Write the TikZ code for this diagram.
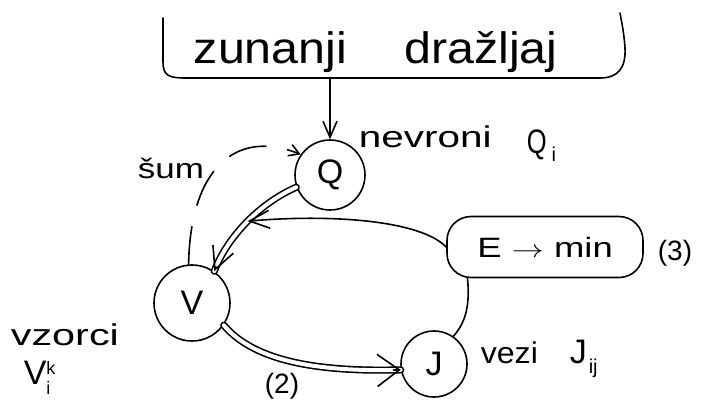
\documentclass[tikz,border=0pt]{standalone}
\usepackage{fontspec}
\setmainfont{Liberation Sans}
\usepackage{graphicx}
\usetikzlibrary{arrows.meta}
\newcommand\myfs[1]{\fontsize{#1}{#1}\selectfont}
\begin{document}
\begin{tikzpicture}[x=1pt,y=-1pt, line width=1.6pt, line cap=round, line join=round,
  circ/.style={circle, draw, inner sep=0pt, font=\myfs{34}},
  lbl/.style={anchor=base west, inner sep=0pt},
  dbl/.style={double, double distance=4pt},
  bigtip/.style={-{Straight Barb[length=22pt,width=32pt]}},
  midtip/.style={-{Straight Barb[length=22pt,width=22pt]}},
  etip/.style={-{Straight Barb[length=20pt,width=18pt]}},
  smalltip/.style={-{Straight Barb[length=16pt,width=14pt]}},
  dashedcurve/.style={dash pattern=on 38pt off 22pt}]
\useasboundingbox (0,0) rectangle (706,399);

% external stimulus bracket
\node[lbl, font=\myfs{44}] (zd) at (193,63) {\scalebox{1.1}[1]{zunanji}\hspace{57pt}\scalebox{1.1}[1]{dražljaj}};
\draw (163,18) -- (163,62) .. controls (163,75) and (168,78) .. (185,78) -- (600,78)
      .. controls (618,78) and (626,68) .. (625,48) .. controls (624,33) and (622,24) .. (620,13);
\coordinate (bb) at (330,78);

% nodes
\node[circ, minimum size=70pt] (Q) at (330,175) {Q};
\node[circ, minimum size=76pt] (V) at (192,303) {V};
\node[circ, minimum size=66pt] (J) at (434,364) {J};
\node[draw, rounded corners=24pt, minimum width=196pt, minimum height=61pt, font=\myfs{28}] (E) at (545,247)
      {\scalebox{1.3}[1]{E $\rightarrow$ min}};

% labels
\node[lbl, font=\myfs{30}] (nv) at (358,147) {\scalebox{1.35}[1]{nevroni}};
\node[lbl, font=\myfs{34}] (qi) at (526,153) {\scalebox{0.75}[1]{Q}\hspace{5pt}\raisebox{-8pt}{\myfs{20}i}};
\node[lbl, font=\myfs{28}] (sum) at (137,178) {\scalebox{1.25}[1]{šum}};
\node[lbl, font=\myfs{30}] (vz) at (10,345) {\scalebox{1.38}[1]{vzorci}};
\node[lbl, font=\myfs{34}] (vik) at (23,384) {V\rlap{\raisebox{10pt}{\myfs{18}k}}\raisebox{-10pt}{\myfs{18}i}};
\node[lbl, font=\myfs{30}] (vezi) at (480,363) {\scalebox{1.07}[1]{vezi}};
\node[lbl, font=\myfs{34}] (jij) at (569,363) {J\hspace{2pt}\raisebox{-10pt}{\myfs{20}ij}};
\node[font=\myfs{28}] (three) at (675,253) {(3)};
\node[font=\myfs{28}] (two) at (282,386) {(2)};

% connectors
\draw[smalltip] (bb) -- (Q.north);

\draw[dbl] (Q.200) .. controls (262,202) and (228,235) .. (V.55)
      coordinate[pos=0.5] (mid) coordinate[pos=0.96] (qvend);
\draw[midtip] (qvend) -- (V.55);

\draw[dbl] (V.-35) .. controls (255,362) and (320,372) .. (J.190)
      coordinate[pos=0.97] (vjend);
\draw[bigtip] (vjend) -- (J.190);

\draw[etip] (E.west) .. controls (420,220) and (330,214) .. (mid);
\draw (E.202) .. controls (470,305) and (466,322) .. (J.55);

\draw[dashedcurve, -{Straight Barb[length=10pt,width=12pt]}] (V.95) .. controls (190,170) and (235,128) .. (Q.145);
\end{tikzpicture}
\end{document}
